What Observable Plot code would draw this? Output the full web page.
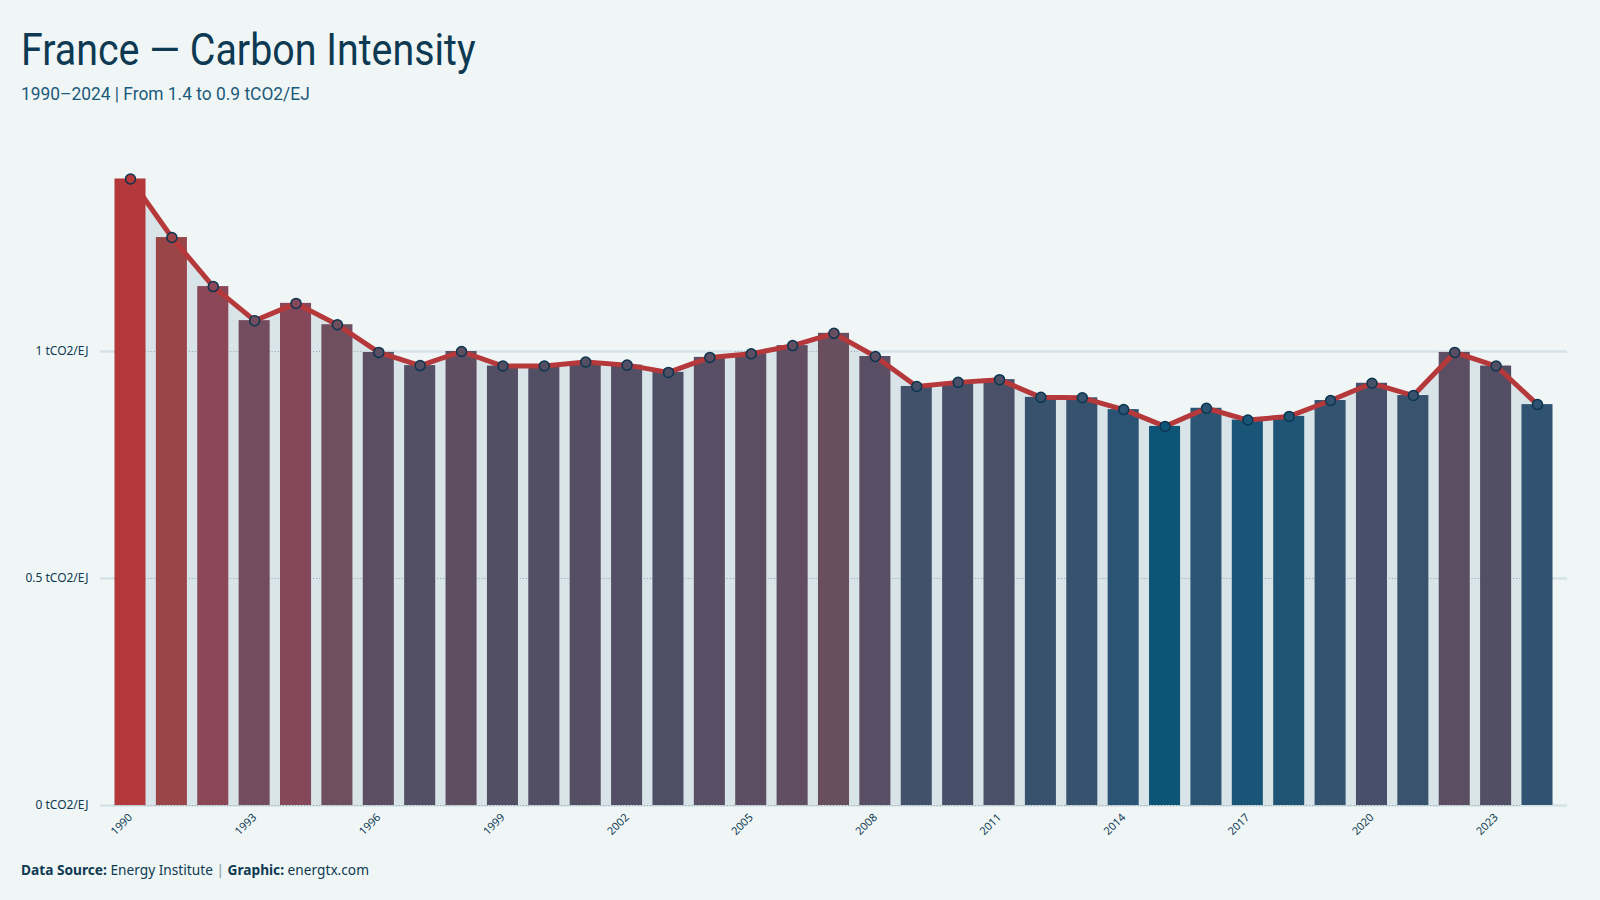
<!DOCTYPE html>
<html>
<head>
<meta charset="utf-8">
<script src="https://cdn.jsdelivr.net/npm/d3@7"></script>
<script src="https://cdn.jsdelivr.net/npm/@observablehq/plot@0.6"></script>
<style>
  html, body { margin: 0; padding: 0; }
  body { width: 1600px; height: 900px; background: #f0f6f6; position: relative; overflow: hidden; }
  .title { position: absolute; left: 21px; top: 27px; font-family: "Roboto", sans-serif; font-size: 45px; line-height: 45px; color: #0d3a52; white-space: nowrap; transform: scaleX(0.875); transform-origin: 0 0; }
  .subtitle { position: absolute; left: 21px; top: 84px; font-family: "Roboto", sans-serif; font-size: 19px; line-height: 19px; color: #1b5a7a; white-space: nowrap; transform: scaleX(0.914); transform-origin: 0 0; }
  #chart { position: absolute; left: 0; top: 120px; }
  .footer { position: absolute; left: 21px; top: 863px; font-family: "Noto Sans", "Open Sans", sans-serif; font-size: 13.7px; line-height: 13px; color: #0d3a52; white-space: nowrap; }
  .footer b { font-weight: 700; }
  .footer .sep { color: #9fb3bd; font-weight: 700; }
</style>
</head>
<body>
<div class="title">France — Carbon Intensity</div>
<div class="subtitle">1990–2024 | From 1.4 to 0.9 tCO2/EJ</div>
<div id="chart"></div>
<div class="footer"><b>Data Source:</b> Energy Institute <span class="sep">|</span> <b>Graphic:</b> energtx.com</div>
<script>
const years = [1990, 1991, 1992, 1993, 1994, 1995, 1996, 1997, 1998, 1999,
               2000, 2001, 2002, 2003, 2004, 2005, 2006, 2007, 2008, 2009,
               2010, 2011, 2012, 2013, 2014, 2015, 2016, 2017, 2018, 2019,
               2020, 2021, 2022, 2023, 2024];
const intensity = [1.380, 1.251, 1.143, 1.068, 1.106, 1.059, 0.998, 0.969, 1.000, 0.968,
                   0.968, 0.977, 0.970, 0.954, 0.987, 0.995, 1.013, 1.040, 0.989, 0.923,
                   0.932, 0.938, 0.899, 0.898, 0.872, 0.835, 0.875, 0.849, 0.857, 0.892,
                   0.930, 0.903, 0.998, 0.968, 0.883];
const yTicks = [0, 0.5, 1];
const xTickYears = [1990, 1993, 1996, 1999, 2002, 2005, 2008, 2011, 2014, 2017, 2020, 2023];

const data = years.map((year, i) => ({year, value: intensity[i]}));

// dotted gridline pieces visible in the gaps where the shaded area lies above a gridline
const dotted = [];
yTicks.forEach(t => {
  years.forEach((year, i) => {
    if (i < years.length - 1 && Math.max(intensity[i], intensity[i + 1]) > t + 0.004) dotted.push({year, y: t});
  });
});

const chart = Plot.plot({
  width: 1600,
  height: 720,
  marginLeft: 100,
  marginRight: 33,
  marginTop: 49.4,
  marginBottom: 35,
  style: {background: "transparent", fontFamily: "'Noto Sans', 'Open Sans', sans-serif", fontSize: "11px", color: "#0d3a52"},
  x: {type: "band", domain: years, paddingInner: 0.25, paddingOuter: 0.35, align: 0.5, round: false,
      ticks: xTickYears, tickFormat: d => String(d), tickRotate: -45, tickSize: 0, tickPadding: 10, label: null},
  y: {domain: [0, 1.4], ticks: yTicks, tickFormat: d => `${d} tCO2/EJ`, tickSize: 0, tickPadding: 12, label: null},
  color: {type: "linear",
          domain: [0.835, 0.872, 0.93, 1.0, 1.06, 1.11, 1.25, 1.38],
          range: ["#0d5577", "#2b5474", "#465068", "#5d4e62", "#6f4e5e", "#86485a", "#9a4548", "#b3383a"],
          interpolate: "rgb"},
  marks: [
    Plot.ruleY(yTicks, {stroke: "#d5e2e6", strokeWidth: 2.5}),
    Plot.areaY(data, {x: "year", y: "value", fill: "#d8e4e8"}),
    Plot.tickY(dotted, {x: "year", y: "y", stroke: "#8ea3ab", strokeWidth: 1, strokeDasharray: "1,2", insetRight: -10.5}),
    Plot.barY(data, {x: "year", y: "value", fill: "value"}),
    Plot.lineY(data, {x: "year", y: "value", stroke: "#b5383b", strokeWidth: 5, strokeLinejoin: "round"}),
    Plot.dot(data, {x: "year", y: "value", r: 5, fill: "value", stroke: "#0b3550", strokeWidth: 1.5})
  ]
});
chart.querySelectorAll('g[aria-label="y-axis tick label"] text').forEach(t => t.setAttribute("font-size", "12px"));
document.getElementById("chart").appendChild(chart);
</script>
</body>
</html>
